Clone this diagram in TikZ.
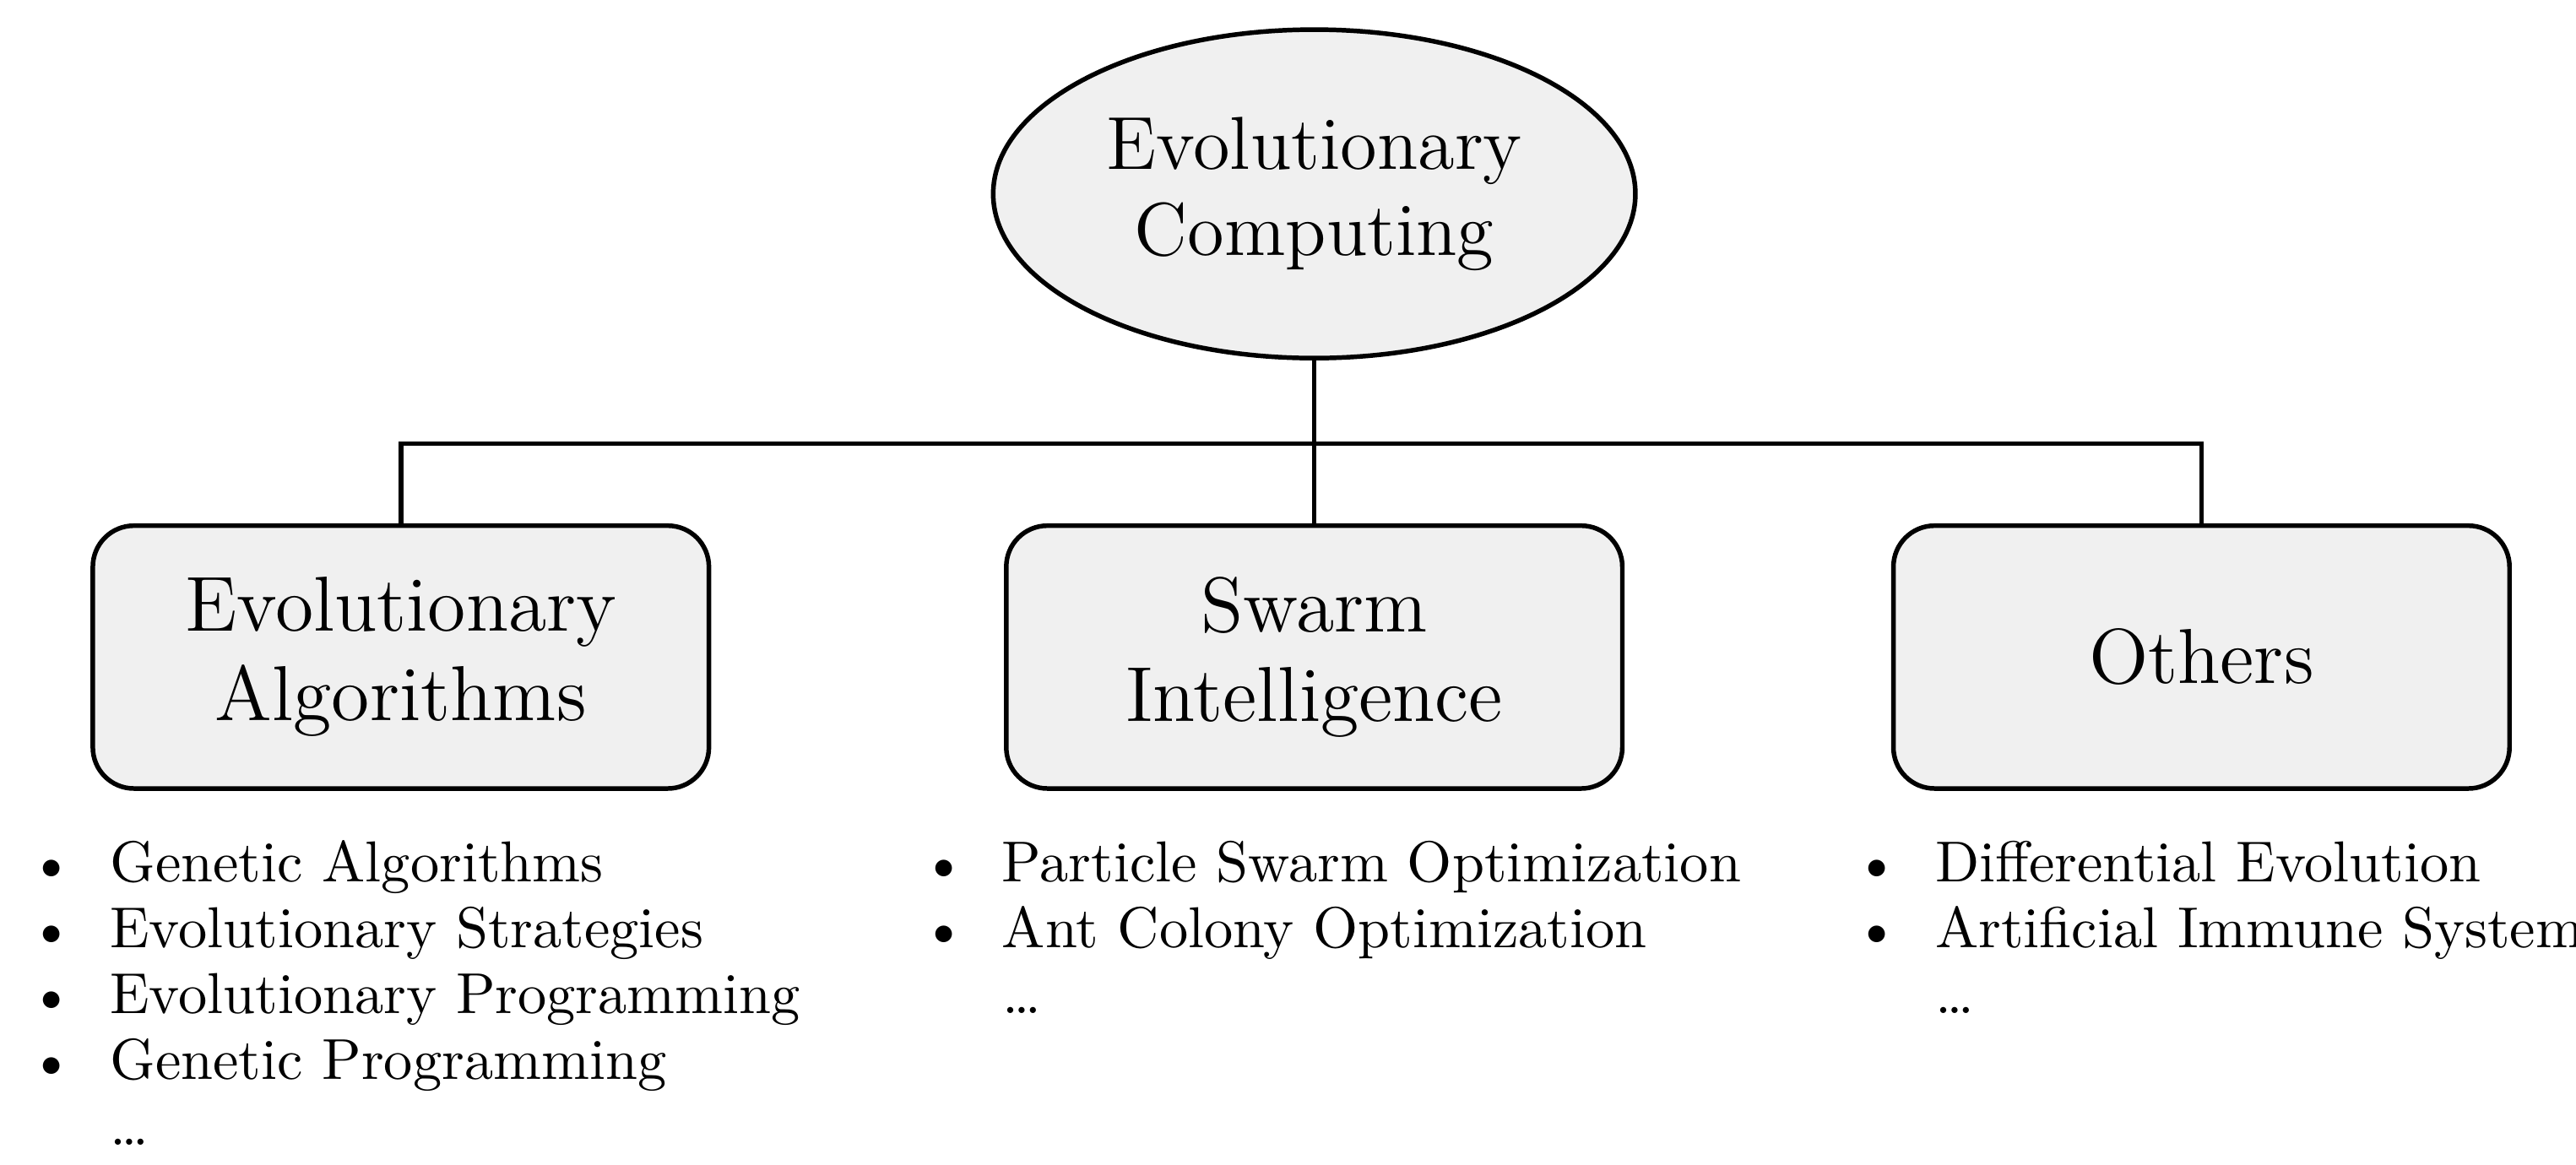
\documentclass[tikz,border=0pt]{standalone}
\usepackage{tikz}
\usetikzlibrary{shapes}
\usetikzlibrary{positioning}
\definecolor{boxgray}{HTML}{F0F0F0}
\begin{document}
\begin{tikzpicture}
			\tikzset{root/.style = {shape=ellipse,draw,thick,fill=boxgray,
					minimum width=3.74cm,minimum height=2cm,align=center,
					font=\fontsize{13}{15}\selectfont}}
			\tikzset{branch/.style = {shape=rectangle,draw,thick,fill=boxgray,
					rounded corners=0.25cm,minimum width=3.75cm,minimum height=1.6cm,
					align=center,font=\fontsize{13.5}{15.5}\selectfont}}
			\tikzset{items/.style = {anchor=north west,inner sep=0pt,
					font=\fontsize{10}{11.4}\selectfont}}
			\tikzset{link/.style = {thick}}

		\useasboundingbox (0,0) rectangle (15.68,-7.09);

		% nodes
		\node[root] (ec) at (8.0,-1.18) {Evolutionary\\Computing};
		\node[branch] (ea) at (2.44,-4.0) {Evolutionary\\Algorithms};
		\node[branch] (si) at (8.0,-4.0) {Swarm\\Intelligence};
		\node[branch] (ot) at (13.4,-4.0) {Others};

		\node[items] (eaList) at (0.17,-5.08) {\begin{tabular}{@{}l@{\hspace{0.22cm}}l@{}}
			\textbullet & Genetic Algorithms\\
			\textbullet & Evolutionary Strategies\\
			\textbullet & Evolutionary Programming\\
			\textbullet & Genetic Programming\\
			 & \dots
		\end{tabular}};
		\node[items] (siList) at (5.6,-5.08) {\begin{tabular}{@{}l@{\hspace{0.22cm}}l@{}}
			\textbullet & Particle Swarm Optimization\\
			\textbullet & Ant Colony Optimization\\
			 & \dots
		\end{tabular}};
		\node[items] (otList) at (11.28,-5.08) {\begin{tabular}{@{}l@{\hspace{0.22cm}}l@{}}
			\textbullet & Differential Evolution\\
			\textbullet & Artificial Immune System\\
			 & \dots
		\end{tabular}};

		% edges
		\coordinate (bar) at (8.0,-2.7);
		\draw[link] (ec.south) -- (bar);
		\draw[link] (ea.north) |- (bar) -| (ot.north);
		\draw[link] (bar) -- (si.north);
\end{tikzpicture}
\end{document}
